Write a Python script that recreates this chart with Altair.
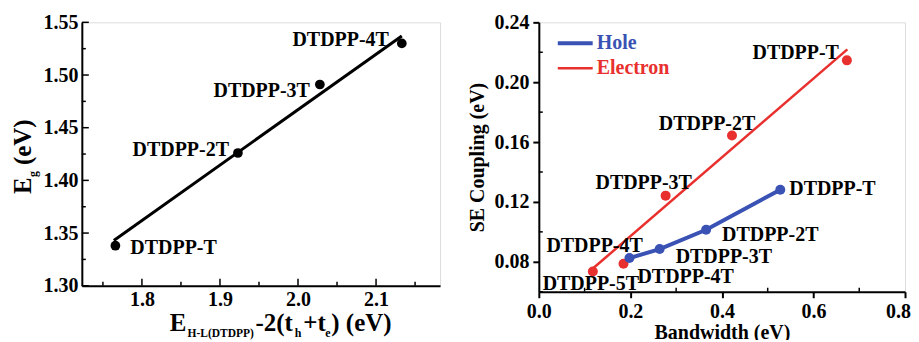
import altair as alt
import pandas as pd

FONT = "Liberation Serif"
BLUE = "#3a52b4"
RED = "#e8302e"

# ---------------- data: left panel ----------------
left_names = ["DTDPP-T", "DTDPP-2T", "DTDPP-3T", "DTDPP-4T"]
left_x = [1.766, 1.923, 2.028, 2.133]
left_y = [1.338, 1.426, 1.491, 1.530]
left_fit_x = [1.764, 2.133]
left_fit_y = [1.343, 1.537]
left_xticks = [1.8, 1.9, 2.0, 2.1]
left_xminor = [1.75, 1.85, 1.95, 2.05, 2.15]
left_yticks = [1.30, 1.35, 1.40, 1.45, 1.50, 1.55]
left_yminor = [1.325, 1.375, 1.425, 1.475, 1.525]

# ---------------- data: right panel ----------------
elec_names = ["DTDPP-5T", "DTDPP-4T", "DTDPP-3T", "DTDPP-2T", "DTDPP-T"]
elec_bw = [0.118, 0.185, 0.277, 0.422, 0.673]
elec_se = [0.0735, 0.0787, 0.1242, 0.1644, 0.2146]
elec_fit_x = [0.118, 0.674]
elec_fit_y = [0.0755, 0.2219]
hole_names = ["DTDPP-4T", "DTDPP-3T", "DTDPP-2T", "DTDPP-T"]
hole_bw = [0.198, 0.264, 0.3655, 0.5275]
hole_se = [0.0825, 0.0885, 0.1014, 0.1282]
right_xticks = [0.0, 0.2, 0.4, 0.6, 0.8]
right_xminor = [0.1, 0.3, 0.5, 0.7]
right_yticks = [0.08, 0.12, 0.16, 0.20, 0.24]
right_yminor = [0.06, 0.10, 0.14, 0.18, 0.22]
legend_names = ["Hole", "Electron"]

W1, H1 = 359, 264
W2, H2 = 367, 270

one = pd.DataFrame({"d": [0]})


def axis(values, fmt, tick_size, **extra):
    return alt.Axis(
        values=values, format=fmt, title=None, grid=False,
        tickSize=tick_size, tickWidth=2, tickColor="black",
        domainColor="black", domainWidth=2,
        labelFont=FONT, labelFontSize=20, labelFontWeight="bold",
        labelColor="black", labelPadding=4, labelFlush=False,
        labelOverlap=False, **extra
    )


# ================= LEFT PANEL =================
lx_scale = alt.Scale(domain=[1.723, 2.182], nice=False, zero=False)
ly_scale = alt.Scale(domain=[1.30, 1.55], nice=False, zero=False)


def LX(f):
    return alt.X(f, type="quantitative", scale=lx_scale, axis=axis(left_xticks, ".1f", 0))


def LY(f):
    return alt.Y(f, type="quantitative", scale=ly_scale, axis=axis(left_yticks, ".2f", 0))


ldf = pd.DataFrame({"x": left_x, "y": left_y, "name": left_names})
lfit = pd.DataFrame({"x": left_fit_x, "y": left_fit_y})

l_line = alt.Chart(lfit).mark_line(color="black", strokeWidth=3).encode(x=LX("x"), y=LY("y"))
l_pts = alt.Chart(ldf).mark_circle(color="black", size=95, opacity=1).encode(x=LX("x"), y=LY("y"))

left_label_style = {
    "DTDPP-T": dict(align="left", dx=15, dy=2),
    "DTDPP-2T": dict(align="right", dx=-9, dy=-3),
    "DTDPP-3T": dict(align="right", dx=-10, dy=7),
    "DTDPP-4T": dict(align="right", dx=-13, dy=-3),
}
l_labels = []
for n in left_names:
    st = left_label_style[n]
    l_labels.append(
        alt.Chart(ldf).transform_filter(alt.datum.name == n).mark_text(
            font=FONT, fontSize=20, fontWeight="bold", color="black",
            baseline="middle", **st
        ).encode(x=LX("x"), y=LY("y"), text="name:N")
    )

# inward ticks
l_xmaj = alt.Chart(pd.DataFrame({"v": left_xticks})).mark_rule(color="black", strokeWidth=1.5).encode(
    x=LX("v"), y=alt.value(H1), y2=alt.value(H1 - 7))
l_xmin = alt.Chart(pd.DataFrame({"v": left_xminor})).mark_rule(color="black", strokeWidth=1.5).encode(
    x=LX("v"), y=alt.value(H1), y2=alt.value(H1 - 4))
l_ymaj = alt.Chart(pd.DataFrame({"v": left_yticks})).mark_rule(color="black", strokeWidth=1.5).encode(
    y=LY("v"), x=alt.value(0), x2=alt.value(7))
l_ymin = alt.Chart(pd.DataFrame({"v": left_yminor})).mark_rule(color="black", strokeWidth=1.5).encode(
    y=LY("v"), x=alt.value(0), x2=alt.value(4))


def txt(s, x, y, size, angle=0):
    kw = dict(text=s, font=FONT, fontSize=size, fontWeight="bold", color="black",
              align="left", baseline="alphabetic")
    if angle:
        kw["angle"] = angle
    return alt.Chart(one).mark_text(**kw).encode(x=alt.value(x), y=alt.value(y))


base_y = H1 + 45
sub_y = base_y + 6
l_xtitle = [
    txt("E", 88, base_y, 25),
    txt("H-L(DTDPP)", 106, sub_y, 11.5),
    txt("-2(t", 174, base_y, 25),
    txt("h", 213.5, sub_y, 12),
    txt("+t", 222, base_y, 25),
    txt("e", 244, sub_y, 12),
    txt(") (eV)", 250, base_y, 25),
]
l_ytitle = [
    txt("E", -51, 172, 25, 270),
    txt("g", -45, 155, 12, 270),
    txt("(eV)", -51, 143, 25, 270),
]

left = alt.layer(
    l_line, l_pts, *l_labels, l_xmaj, l_xmin, l_ymaj, l_ymin, *l_xtitle, *l_ytitle
).properties(width=W1, height=H1)

# ================= RIGHT PANEL =================
rx_scale = alt.Scale(domain=[0.0, 0.8], nice=False, zero=False)
ry_scale = alt.Scale(domain=[0.06, 0.24], nice=False, zero=False)


def RX(f):
    ax = axis(right_xticks, ".1f", 6,
              labelOffset={"condition": {"test": "datum.value >= 0.79", "value": -7}, "value": 0})
    ax["title"] = "Bandwidth (eV)"
    ax["titleFont"] = FONT
    ax["titleFontSize"] = 20
    ax["titleFontWeight"] = "bold"
    ax["titleColor"] = "black"
    ax["titlePadding"] = 1
    return alt.X(f, type="quantitative", scale=rx_scale, axis=ax)


def RY(f):
    ax = axis(right_yticks, ".2f", 6)
    ax["title"] = "SE Coupling (eV)"
    ax["titleFont"] = FONT
    ax["titleFontSize"] = 20
    ax["titleFontWeight"] = "bold"
    ax["titleColor"] = "black"
    ax["titlePadding"] = 6
    return alt.Y(f, type="quantitative", scale=ry_scale, axis=ax)


edf = pd.DataFrame({"x": elec_bw, "y": elec_se, "name": elec_names})
hdf = pd.DataFrame({"x": hole_bw, "y": hole_se, "name": hole_names})
efit = pd.DataFrame({"x": elec_fit_x, "y": elec_fit_y})

r_eline = alt.Chart(efit).mark_line(color=RED, strokeWidth=2.5).encode(x=RX("x"), y=RY("y"))
r_hline = alt.Chart(hdf).mark_line(color=BLUE, strokeWidth=4).encode(x=RX("x"), y=RY("y"))
r_epts = alt.Chart(edf).mark_circle(color=RED, size=100, opacity=1).encode(x=RX("x"), y=RY("y"))
r_hpts = alt.Chart(hdf).mark_circle(color=BLUE, size=100, opacity=1).encode(x=RX("x"), y=RY("y"))

elec_label_style = {
    "DTDPP-T": dict(align="right", dx=-8, dy=-7),
    "DTDPP-2T": dict(align="center", dx=-25, dy=-11),
    "DTDPP-3T": dict(align="center", dx=-22, dy=-13),
    "DTDPP-4T": dict(align="center", dx=-29, dy=-18),
    "DTDPP-5T": dict(align="center", dx=-2, dy=13),
}
hole_label_style = {
    "DTDPP-T": dict(align="left", dx=9, dy=-1),
    "DTDPP-2T": dict(align="left", dx=16, dy=5),
    "DTDPP-3T": dict(align="left", dx=16, dy=8),
    "DTDPP-4T": dict(align="left", dx=8, dy=19),
}
r_labels = []
for df, styles in ((edf, elec_label_style), (hdf, hole_label_style)):
    for n, st in styles.items():
        r_labels.append(
            alt.Chart(df).transform_filter(alt.datum.name == n).mark_text(
                font=FONT, fontSize=20, fontWeight="bold", color="black",
                baseline="middle", **st
            ).encode(x=RX("x"), y=RY("y"), text="name:N")
        )

r_xmin = alt.Chart(pd.DataFrame({"v": right_xminor})).mark_rule(color="black", strokeWidth=1.5).encode(
    x=RX("v"), y=alt.value(H2), y2=alt.value(H2 - 4))
r_ymin = alt.Chart(pd.DataFrame({"v": right_yminor})).mark_rule(color="black", strokeWidth=1.5).encode(
    y=RY("v"), x=alt.value(0), x2=alt.value(4))

# legend
leg = []
for name, col, sw, yy in ((legend_names[0], BLUE, 4, 21), (legend_names[1], RED, 2.5, 46)):
    leg.append(alt.Chart(one).mark_rule(color=col, strokeWidth=sw).encode(
        x=alt.value(19), x2=alt.value(54), y=alt.value(yy)))
    leg.append(alt.Chart(one).mark_text(
        text=name, font=FONT, fontSize=20, fontWeight="bold", color=col,
        align="left", baseline="middle").encode(x=alt.value(58), y=alt.value(yy)))

right = alt.layer(
    r_eline, r_hline, r_epts, r_hpts, *r_labels, r_xmin, r_ymin, *leg
).properties(width=W2, height=H2)

chart = alt.hconcat(left, right, spacing=26).properties(
    padding={"left": 2, "top": 3, "right": 0, "bottom": -4}
).configure_view(stroke="black", strokeWidth=2).configure(background="white")

chart.save("out.html", embed_options={"renderer": "svg", "actions": False})
